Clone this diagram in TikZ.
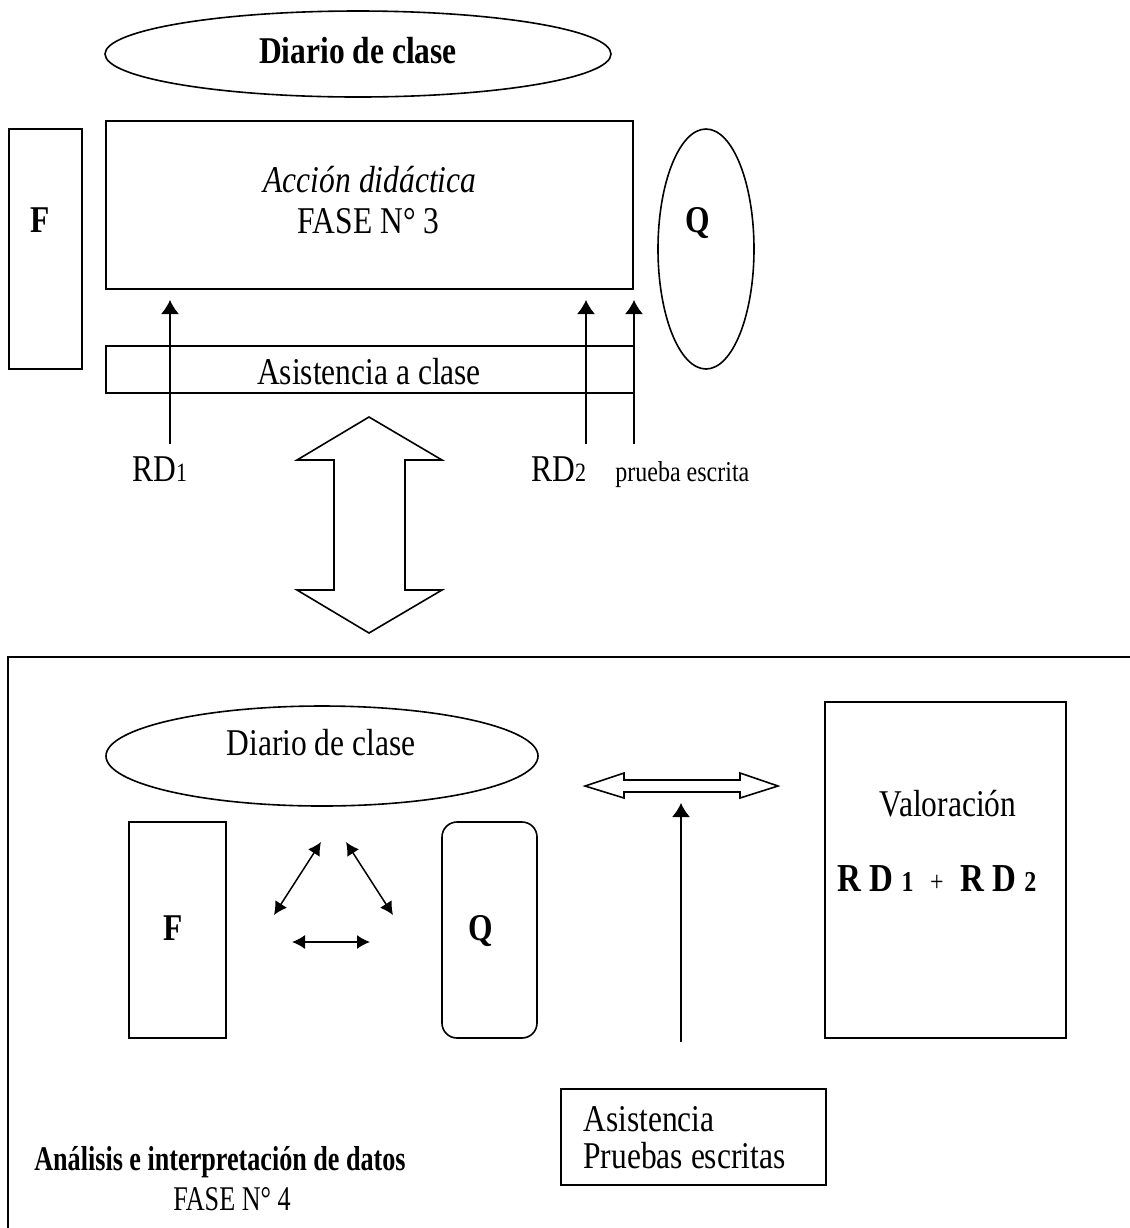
\documentclass[tikz,border=0pt]{standalone}
\usepackage{fontspec}
\usepackage{graphicx}
\setmainfont{Liberation Serif}
\usetikzlibrary{shapes.geometric,arrows.meta}
\newcommand{\tx}[1]{\scalebox{1}[1.2]{#1}}
\newcommand{\txn}[1]{\scalebox{0.83}[1.1]{#1}}
\begin{document}
\begin{tikzpicture}[x=0.5pt,y=-0.5pt,
  shape line/.style={draw, line width=0.8pt, inner sep=0pt, outer sep=0pt},
  box/.style={shape line, rectangle},
  oval/.style={shape line, ellipse},
  txt/.style={inner sep=0pt, anchor=base, font=\fontsize{15.75pt}{18pt}\selectfont},
  txtl/.style={txt, anchor=base west},
  conn/.style={line width=0.75pt, -{Latex[length=7pt,width=9pt]}},
  tri/.style={line width=0.75pt, {Latex[length=6.5pt,width=7pt]}-{Latex[length=6.5pt,width=7pt]}},
  block/.style={draw, line width=0.8pt, fill=white, line join=miter}
]
\useasboundingbox (0,0) rectangle (1130,1228);

% ---------------- Phase 3 ----------------
\node[oval, minimum width=253pt, minimum height=43pt] (diario1) at (358,54) {};
\node[txt, font=\fontsize{15.75pt}{18pt}\selectfont\bfseries] (diario1t) at (358,63) {\tx{Diario de clase}};

\node[box, minimum width=263.5pt, minimum height=84pt] (accion) at (369.5,205) {};
\node[txt, font=\fontsize{15.75pt}{18pt}\selectfont\itshape] (acciont) at (370,192) {\tx{Acción didáctica}};
\node[txt] (fase3) at (368.5,233) {\tx{FASE N° 3}};

\node[box, minimum width=36.5pt, minimum height=120pt] (f1) at (45.5,249) {};
\node[txt, font=\fontsize{15.75pt}{18pt}\selectfont\bfseries] (f1t) at (40,232) {\tx{F}};

\node[oval, minimum width=48pt, minimum height=120pt] (q1) at (706,249) {};
\node[txt, font=\fontsize{15.75pt}{18pt}\selectfont\bfseries] (q1t) at (698,232) {\tx{Q}};

\node[box, minimum width=264pt, minimum height=23.5pt] (asis) at (370,369.5) {};
\node[txt] (asist) at (369,384) {\tx{Asistencia a clase}};

\coordinate (rd1s) at (170,444);  \coordinate (rd1e) at (170,300);
\coordinate (rd2s) at (586,444);  \coordinate (rd2e) at (586,300);
\coordinate (pes)  at (634,444);  \coordinate (pee)  at (634,300);
\draw[conn] (rd1s) -- (rd1e);
\draw[conn] (rd2s) -- (rd2e);
\draw[conn] (pes) -- (pee);

\node[txtl] (rd1) at (132,481) {\tx{RD{\fontsize{11pt}{12pt}\selectfont 1}}};
\node[txtl] (rd2) at (531,481) {\tx{RD{\fontsize{11pt}{12pt}\selectfont 2}}};
\node[txtl, font=\fontsize{12pt}{14pt}\selectfont] (prueba) at (615,481) {\tx{prueba escrita}};

% vertical block double arrow
\draw[block] (369,417) -- (442,460) -- (405,460) -- (405,590) -- (442,590) -- (369,633)
  -- (297,590) -- (334,590) -- (334,460) -- (297,460) -- cycle;

% ---------------- Phase 4 ----------------
\draw[line width=0.8pt] (1130,657) -- (8,657) -- (8,1228);

\node[oval, minimum width=216pt, minimum height=50pt] (diario2) at (322,756) {};
\node[txt] (diario2t) at (321,755) {\tx{Diario de clase}};

\node[box, minimum width=48.5pt, minimum height=108pt] (f2) at (177.5,930) {};
\node[txt, font=\fontsize{15.75pt}{18pt}\selectfont\bfseries] (f2t) at (173,940) {\tx{F}};

\node[box, rounded corners=7.5pt, minimum width=47.5pt, minimum height=108pt] (q2) at (489.5,930) {};
\node[txt, font=\fontsize{15.75pt}{18pt}\selectfont\bfseries] (q2t) at (481,940) {\tx{Q}};

\coordinate (ta1) at (274,915); \coordinate (ta2) at (321,842);
\coordinate (tb1) at (346,842); \coordinate (tb2) at (393,915);
\coordinate (tc1) at (292,942); \coordinate (tc2) at (370,942);
\draw[tri] (ta1) -- (ta2);
\draw[tri] (tb1) -- (tb2);
\draw[tri] (tc1) -- (tc2);

% horizontal block double arrow
\draw[block] (585,786) -- (624,773) -- (624,780) -- (740,780) -- (740,773) -- (778,786)
  -- (740,798) -- (740,792) -- (624,792) -- (624,798) -- cycle;

\coordinate (vs) at (681,1042); \coordinate (ve) at (681,803);
\draw[conn] (vs) -- (ve);

\node[box, minimum width=120.5pt, minimum height=168pt] (val) at (945.5,870) {};
\node[txt] (valt) at (948,816) {\tx{Valoración}};
\node[txt, font=\fontsize{16.5pt}{18pt}\selectfont\bfseries] (rdsum) at (937,891)
  {\tx{R D {\fontsize{12pt}{12pt}\selectfont 1}\ \ {\fontsize{12pt}{12pt}\selectfont\mdseries +}\ \ R D {\fontsize{12pt}{12pt}\selectfont 2}}};

\node[box, minimum width=132.5pt, minimum height=48pt] (pe) at (693.5,1137) {};
\node[txtl] (pet1) at (583,1131) {\tx{Asistencia}};
\node[txtl] (pet2) at (583,1168) {\tx{Pruebas escritas}};

\node[txt, font=\fontsize{15.75pt}{18pt}\selectfont\bfseries] (analisis) at (220,1170) {\txn{Análisis e interpretación de datos}};
\node[txt] (fase4) at (232,1210) {\txn{FASE N° 4}};
\end{tikzpicture}
\end{document}
